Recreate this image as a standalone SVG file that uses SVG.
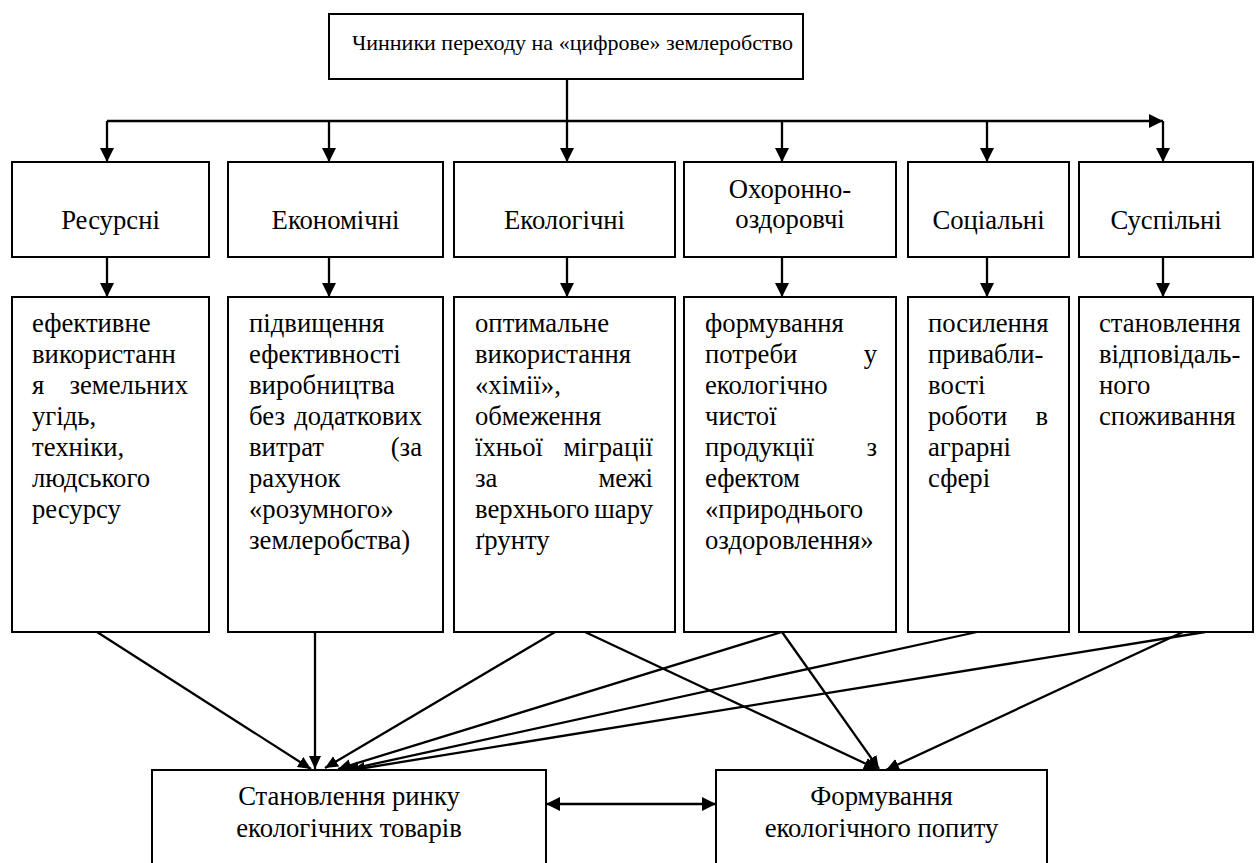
<svg xmlns="http://www.w3.org/2000/svg" width="1256" height="863" viewBox="0 0 1256 863">
  <style>
    .box { fill: #fff; stroke: #000; stroke-width: 2; }
    .t { font-family: "Liberation Serif", "Times New Roman", "DejaVu Serif", serif; font-size: 26.7px; fill: #000; }
    .title { font-size: 22px; }
    .c { text-anchor: middle; }
    .e { text-anchor: end; }
    .ln { fill: none; stroke: #000; stroke-width: 2.3; }
    .arr { marker-end: url(#ah); }
    .sarr { marker-end: url(#ahs); }
  </style>
  <defs>
    <marker id="ah" markerUnits="userSpaceOnUse" markerWidth="15" markerHeight="15" refX="14" refY="7" orient="auto">
      <path d="M0,0 L14,7 L0,14 z" fill="#000"/>
    </marker>
    <marker id="ahs" markerUnits="userSpaceOnUse" markerWidth="14" markerHeight="13" refX="13" refY="6" orient="auto">
      <path d="M0,0 L13,6 L0,12 z" fill="#000"/>
    </marker>
    <marker id="ahstart" markerUnits="userSpaceOnUse" markerWidth="15" markerHeight="15" refX="0" refY="7" orient="auto">
      <path d="M14,0 L0,7 L14,14 z" fill="#000"/>
    </marker>
  </defs>

  <rect width="1256" height="863" fill="#fff"/>

  <!-- connectors -->
  <g id="connectors">
    <!-- trunk and distribution bus -->
    <path class="ln arr" d="M567,79 V162"/>
    <path class="ln arr" d="M107,121 H1163"/>
    <path class="ln arr" d="M107,121 V162"/>
    <path class="ln arr" d="M329,121 V162"/>
    <path class="ln arr" d="M782,121 V162"/>
    <path class="ln arr" d="M987,121 V162"/>
    <path class="ln arr" d="M1163,121 V162"/>
    <!-- factor to description -->
    <path class="ln arr" d="M107,257 V297"/>
    <path class="ln arr" d="M329,257 V297"/>
    <path class="ln arr" d="M567,257 V297"/>
    <path class="ln arr" d="M782,257 V297"/>
    <path class="ln arr" d="M987,257 V297"/>
    <path class="ln arr" d="M1163,257 V297"/>
    <!-- descriptions to market formation -->
    <path class="ln sarr" d="M97,632 L311,769"/>
    <path class="ln sarr" d="M315,632 L315,769"/>
    <path class="ln sarr" d="M555,632 L325,768"/>
    <path class="ln sarr" d="M782,632 L338,769"/>
    <path class="ln sarr" d="M977,632 L346,770"/>
    <path class="ln sarr" d="M1205,632 L352,770"/>
    <!-- descriptions to demand formation -->
    <path class="ln sarr" d="M585,632 L877,769"/>
    <path class="ln sarr" d="M782,632 L879,769"/>
    <path class="ln sarr" d="M1183,632 L886,770"/>
    <!-- mutual link between outcomes -->
    <path class="ln" d="M546,804 H716" marker-start="url(#ahstart)" marker-end="url(#ah)"/>
  </g>

  <!-- root -->
  <g id="root">
    <rect class="box" x="329" y="14" width="474" height="65"/>
    <text class="t title" x="352" y="50">Чинники переходу на «цифрове» землеробство</text>
  </g>

  <!-- factor groups -->
  <g id="f-resource">
    <rect class="box" x="12" y="162" width="197" height="95"/>
    <text class="t c" x="110.5" y="229">Ресурсні</text>
  </g>
  <g id="f-economic">
    <rect class="box" x="228" y="162" width="215" height="95"/>
    <text class="t c" x="335.5" y="229">Економічні</text>
  </g>
  <g id="f-ecological">
    <rect class="box" x="454" y="162" width="221" height="95"/>
    <text class="t c" x="564.5" y="229">Екологічні</text>
  </g>
  <g id="f-health">
    <rect class="box" x="684" y="162" width="212" height="95"/>
    <text class="t c" x="790" y="198">Охоронно-</text>
    <text class="t c" x="790" y="228">оздоровчі</text>
  </g>
  <g id="f-social">
    <rect class="box" x="908" y="162" width="161" height="95"/>
    <text class="t c" x="988.5" y="229">Соціальні</text>
  </g>
  <g id="f-public">
    <rect class="box" x="1079" y="162" width="174" height="95"/>
    <text class="t c" x="1166" y="229">Суспільні</text>
  </g>

  <!-- descriptions -->
  <g id="d-resource">
    <rect class="box" x="12" y="297" width="197" height="335"/>
    <text class="t" x="32" y="332">ефективне</text>
    <text class="t" x="32" y="363">використанн</text>
    <text class="t" x="32" y="394">я</text>
    <text class="t e" x="188" y="394">земельних</text>
    <text class="t" x="32" y="425">угідь,</text>
    <text class="t" x="32" y="456">техніки,</text>
    <text class="t" x="32" y="487">людського</text>
    <text class="t" x="32" y="518">ресурсу</text>
  </g>
  <g id="d-economic">
    <rect class="box" x="228" y="297" width="215" height="335"/>
    <text class="t" x="249" y="332">підвищення</text>
    <text class="t" x="249" y="363">ефективності</text>
    <text class="t" x="249" y="394">виробництва</text>
    <text class="t" x="249" y="425">без</text>
    <text class="t e" x="422" y="425">додаткових</text>
    <text class="t" x="249" y="456">витрат</text>
    <text class="t e" x="422" y="456">(за</text>
    <text class="t" x="249" y="487">рахунок</text>
    <text class="t" x="249" y="518">«розумного»</text>
    <text class="t" x="249" y="549">землеробства)</text>
  </g>
  <g id="d-ecological">
    <rect class="box" x="454" y="297" width="221" height="335"/>
    <text class="t" x="475" y="332">оптимальне</text>
    <text class="t" x="475" y="363">використання</text>
    <text class="t" x="475" y="394">«хімії»,</text>
    <text class="t" x="475" y="425">обмеження</text>
    <text class="t" x="475" y="456">їхньої</text>
    <text class="t e" x="653" y="456">міграції</text>
    <text class="t" x="475" y="487">за</text>
    <text class="t e" x="653" y="487">межі</text>
    <text class="t" x="475" y="518">верхнього</text>
    <text class="t e" x="653" y="518">шару</text>
    <text class="t" x="475" y="549">ґрунту</text>
  </g>
  <g id="d-health">
    <rect class="box" x="684" y="297" width="212" height="335"/>
    <text class="t" x="705" y="332">формування</text>
    <text class="t" x="705" y="363">потреби</text>
    <text class="t e" x="877" y="363">у</text>
    <text class="t" x="705" y="394">екологічно</text>
    <text class="t" x="705" y="425">чистої</text>
    <text class="t" x="705" y="456">продукції</text>
    <text class="t e" x="877" y="456">з</text>
    <text class="t" x="705" y="487">ефектом</text>
    <text class="t" x="705" y="518">«природнього</text>
    <text class="t" x="705" y="549">оздоровлення»</text>
  </g>
  <g id="d-social">
    <rect class="box" x="908" y="297" width="161" height="335"/>
    <text class="t" x="928" y="332">посилення</text>
    <text class="t" x="928" y="363">привабли-</text>
    <text class="t" x="928" y="394">вості</text>
    <text class="t" x="928" y="425">роботи</text>
    <text class="t e" x="1048" y="425">в</text>
    <text class="t" x="928" y="456">аграрні</text>
    <text class="t" x="928" y="487">сфері</text>
  </g>
  <g id="d-public">
    <rect class="box" x="1079" y="297" width="174" height="335"/>
    <text class="t" x="1099" y="332">становлення</text>
    <text class="t" x="1099" y="363">відповідаль-</text>
    <text class="t" x="1099" y="394">ного</text>
    <text class="t" x="1099" y="425">споживання</text>
  </g>

  <!-- outcomes -->
  <g id="o-market">
    <rect class="box" x="152" y="770" width="394" height="110"/>
    <text class="t c" x="349" y="805">Становлення ринку</text>
    <text class="t c" x="349" y="837">екологічних товарів</text>
  </g>
  <g id="o-demand">
    <rect class="box" x="716" y="770" width="331" height="110"/>
    <text class="t c" x="881.5" y="805">Формування</text>
    <text class="t c" x="881.5" y="837">екологічного попиту</text>
  </g>
</svg>
